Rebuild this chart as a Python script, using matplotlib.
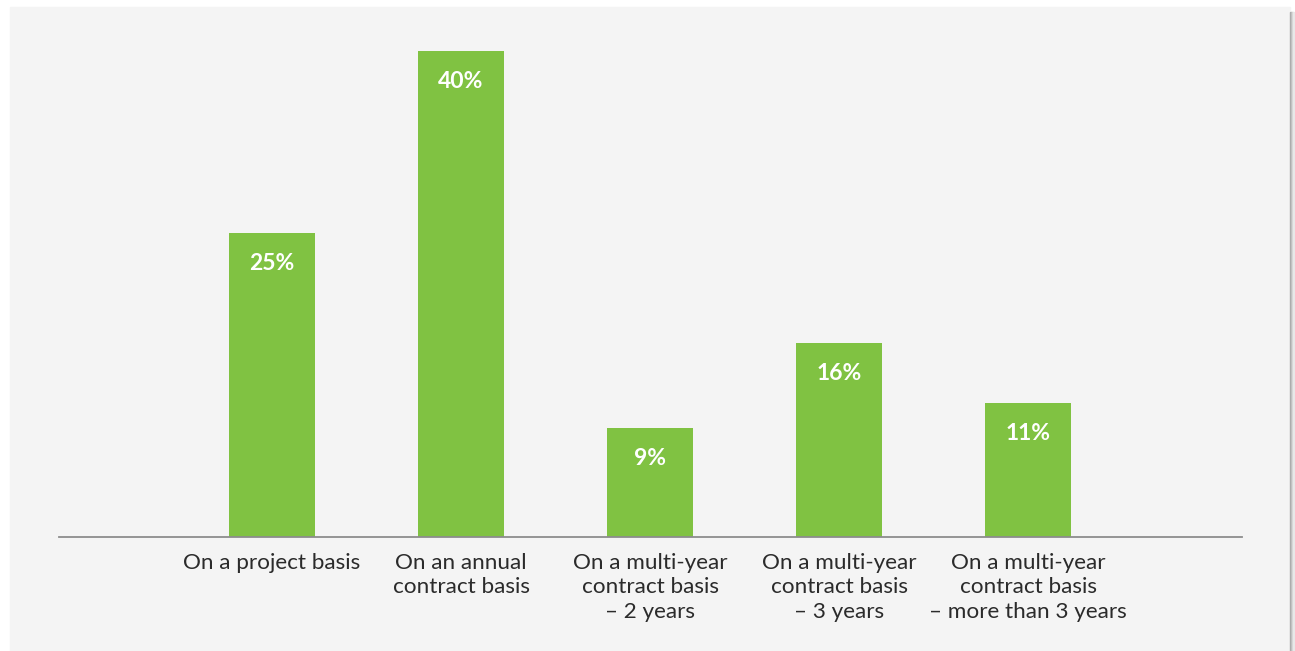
# contract basis bar chart

import matplotlib.pyplot as plt
from matplotlib.patches import Rectangle

categories = [
    "On a project basis",
    "On an annual\ncontract basis",
    "On a multi-year\ncontract basis\n\u2013 2 years",
    "On a multi-year\ncontract basis\n\u2013 3 years",
    "On a multi-year\ncontract basis\n\u2013 more than 3 years",
]
values = [25, 40, 9, 16, 11]

plt.rcParams['font.family'] = ['Lato', 'DejaVu Sans']

W, H = 1295, 651
fig = plt.figure(figsize=(W / 100, H / 100), dpi=100, facecolor='white')

# gray panel and its right shadow (drawn under the axes)
fig.patches.append(Rectangle((10 / W, 0), 1280 / W, (H - 7) / H,
                             transform=fig.transFigure, color='#f4f4f4', zorder=-10))
for i, c in enumerate(['#a8a8a8', '#bdbdbd', '#d4d4d4', '#e8e8e8']):
    fig.patches.append(Rectangle(((1290 + i) / W, 0), 1 / W, (H - 12) / H,
                                 transform=fig.transFigure, color=c, zorder=-10))

ax = fig.add_axes([59 / W, (H - 537) / H, (1242 - 59) / W, (537 - 51) / H])
ax.set_facecolor('none')
ax.set_zorder(5)

x = list(range(len(values)))
bars = ax.bar(x, values, width=0.455, color='#80c242')

for b, v in zip(bars, values):
    ax.annotate(f"{v}%", (b.get_x() + b.get_width() / 2, v),
                xytext=(0, -22), textcoords='offset points',
                ha='center', va='center', color='white',
                fontsize=16.5, fontweight='bold')

ax.set_xlim(-1.127, 5.132)
ax.set_ylim(0, 40)
for s in ['top', 'right', 'left']:
    ax.spines[s].set_visible(False)
ax.spines['bottom'].set_color('#8c8c8c')
ax.spines['bottom'].set_linewidth(1.3)
ax.set_yticks([])
ax.set_xticks(x)
ax.set_xticklabels(categories, fontsize=16.2, color='#2b2b2b', linespacing=1.27)
ax.tick_params(axis='x', length=0, pad=11.5)

plt.savefig("out.png", dpi=100)
